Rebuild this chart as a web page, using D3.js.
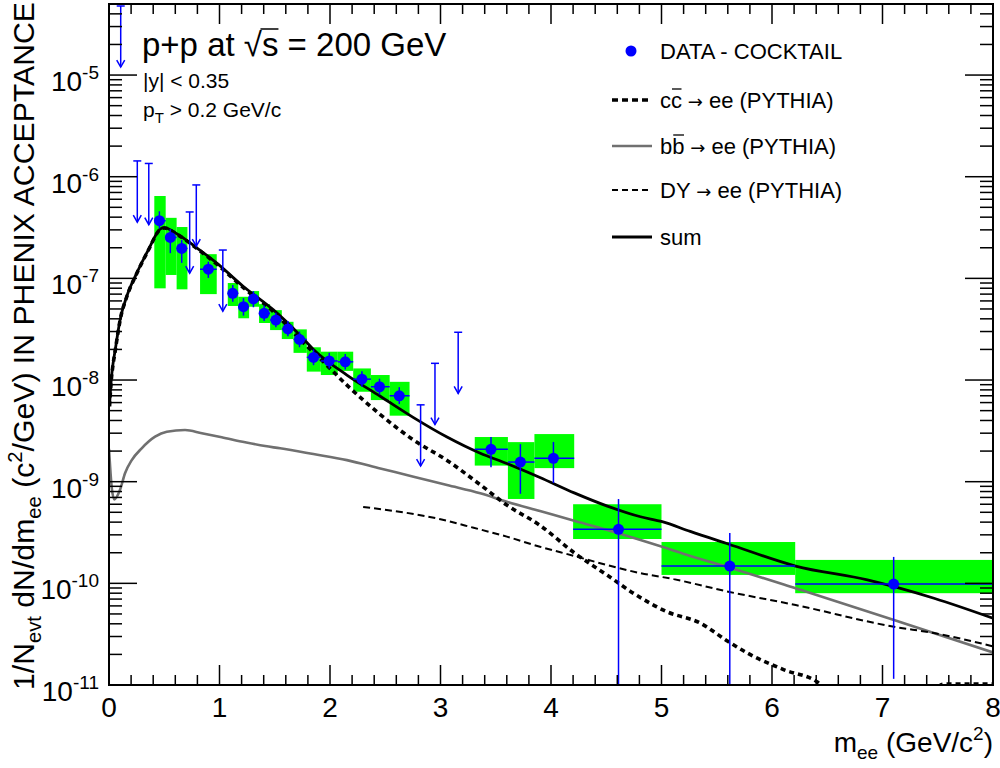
<!DOCTYPE html>
<html><head><meta charset="utf-8">
<script src="https://cdn.jsdelivr.net/npm/d3@7/dist/d3.min.js"></script>
<style>
body{margin:0;background:#fff}
svg{display:block}
text{font-family:"Liberation Sans",Arial,Helvetica,"DejaVu Sans",sans-serif;fill:#000}
</style>
</head><body>
<svg id="chart" width="1000" height="768"></svg>
<script>
// ---------- DATA ----------
// DATA - COCKTAIL points
const dataX  = [0.456,0.555,0.658,0.899,1.12,1.217,1.307,1.404,1.51,1.619,1.724,1.851,1.993,2.138,2.289,2.448,2.627,3.457,3.723,4.022,4.611,5.618,7.101];
const dataY  = [3.69e-7,2.53e-7,1.97e-7,1.23e-7,7.13e-8,5.26e-8,6.27e-8,4.53e-8,3.89e-8,3.18e-8,2.51e-8,1.67e-8,1.54e-8,1.51e-8,1.02e-8,8.59e-9,7.0e-9,2.08e-9,1.56e-9,1.70e-9,3.40e-10,1.48e-10,9.84e-11];
const statHi = [4.57e-7,3.05e-7,2.38e-7,1.46e-7,8.6e-8,6.4e-8,7.5e-8,5.4e-8,4.6e-8,3.8e-8,3.0e-8,2.0e-8,1.85e-8,1.8e-8,1.22e-8,1.03e-8,8.5e-9,2.75e-9,2.34e-9,2.46e-9,6.75e-10,3.13e-10,1.82e-10];
const statLo = [3.1e-7,1.77e-7,1.42e-7,1.01e-7,5.9e-8,4.3e-8,5.2e-8,3.8e-8,3.3e-8,2.7e-8,2.1e-8,1.4e-8,1.3e-8,1.27e-8,8.6e-9,7.2e-9,5.8e-9,1.39e-9,7.6e-10,9.7e-10,1e-12,1e-12,1.15e-11];
const sysHi  = [6.46e-7,3.94e-7,3.2e-7,1.73e-7,9.0e-8,6.59e-8,7.5e-8,5.58e-8,4.87e-8,3.74e-8,3.15e-8,2.1e-8,1.9e-8,1.9e-8,1.3e-8,1.12e-8,9.6e-9,2.75e-9,2.45e-9,2.94e-9,6.0e-10,2.55e-10,1.7e-10];
const sysLo  = [7.98e-8,1.08e-7,7.8e-8,7.0e-8,5.35e-8,4.05e-8,5.26e-8,3.64e-8,3.1e-8,2.53e-8,1.85e-8,1.21e-8,1.12e-8,1.23e-8,7.67e-9,6.35e-9,4.46e-9,1.44e-9,6.76e-10,1.36e-9,2.73e-10,1.21e-10,8.0e-11];
const binLo  = [0.41,0.513,0.612,0.824,1.075,1.17,1.268,1.358,1.458,1.564,1.67,1.79,1.917,2.07,2.21,2.37,2.54,3.31,3.61,3.85,4.2,5.0,6.21];
const binHi  = [0.513,0.612,0.71,0.975,1.17,1.268,1.358,1.458,1.564,1.67,1.79,1.917,2.07,2.21,2.37,2.54,2.72,3.61,3.85,4.21,5.0,6.21,8.0];

// upper limits
const ulX = [0.106,0.256,0.36,0.73,0.79,1.03,2.82,2.95,3.16];
const ulY = [4.8e-5,1.43e-6,1.35e-6,4.5e-7,8.3e-7,1.9e-7,5.7e-9,1.46e-8,2.95e-8];

// PYTHIA curves
const ccX = [0.005,0.02,0.035,0.054,0.084,0.10,0.16,0.25,0.356,0.462,0.50,0.613,0.794,0.976,1.216,1.488,1.73,1.94,2.153,2.455,2.756,3.059,3.36,3.60,3.90,4.21,4.51,4.75,5.05,5.35,5.60,5.80,6.11,6.41,6.6,7.0,7.4,7.55,7.8,8.0];
const ccY = [5.5e-9,9.8e-9,1.38e-8,1.87e-8,3.05e-8,3.85e-8,6.55e-8,1.11e-7,1.89e-7,3.02e-7,3.13e-7,2.72e-7,1.97e-7,1.38e-7,8.1e-8,4.7e-8,2.51e-8,1.51e-8,8.91e-9,4.57e-9,2.57e-9,1.62e-9,9.33e-10,5.89e-10,3.72e-10,2.0e-10,1.20e-10,7.94e-11,5.25e-11,4.07e-11,2.69e-11,2.0e-11,1.41e-11,1.07e-11,7e-12,5e-12,7e-12,1.02e-11,1.02e-11,1.02e-11];

const bbX = [0.0,0.024,0.048,0.10,0.145,0.206,0.296,0.417,0.523,0.688,0.84,1.02,1.232,1.413,1.549,1.85,2.153,2.455,2.756,3.059,3.36,3.60,3.90,4.21,4.51,4.81,5.006,5.26,5.604,6.214,7.104,8.0];
const bbY = [2.1e-9,8.91e-10,6.70e-10,8.32e-10,1.21e-9,1.63e-9,2.13e-9,2.77e-9,3.10e-9,3.22e-9,2.99e-9,2.73e-9,2.44e-9,2.24e-9,2.13e-9,1.87e-9,1.63e-9,1.35e-9,1.12e-9,9.27e-10,7.69e-10,6.35e-10,5.14e-10,4.13e-10,3.35e-10,2.67e-10,2.29e-10,1.86e-10,1.44e-10,8.93e-11,4.37e-11,2.09e-11];

const dyX = [2.30,3.0,3.30,3.60,3.90,4.21,4.51,4.81,5.11,5.604,6.214,7.104,7.466,8.0];
const dyY = [5.64e-10,4.27e-10,3.52e-10,2.88e-10,2.29e-10,1.86e-10,1.51e-10,1.26e-10,1.10e-10,8.28e-11,6.12e-11,3.74e-11,3.24e-11,2.40e-11];

const sumX = [0.005,0.02,0.035,0.054,0.084,0.10,0.16,0.25,0.356,0.462,0.50,0.613,0.794,0.976,1.216,1.488,1.73,1.85,2.153,2.455,2.756,3.059,3.36,3.60,3.90,4.21,4.51,4.81,5.006,5.26,5.604,6.214,6.863,7.466,8.0];
const sumY = [5.62e-9,1.0e-8,1.41e-8,1.905e-8,3.09e-8,3.89e-8,6.61e-8,1.12e-7,1.905e-7,3.05e-7,3.16e-7,2.75e-7,2.0e-7,1.41e-7,8.32e-8,4.90e-8,2.75e-8,2.0e-8,1.12e-8,6.92e-9,4.27e-9,2.75e-9,1.905e-9,1.51e-9,1.10e-9,7.76e-10,5.75e-10,4.52e-10,4.04e-10,3.24e-10,2.44e-10,1.48e-10,1.08e-10,7.13e-11,4.53e-11];

// axes
const xTickValues = [0,1,2,3,4,5,6,7,8];
const yTickExponents = [-11,-10,-9,-8,-7,-6,-5];
const xDomain = [0, 8];
const yDomain = [1e-11, 5e-5];

// texts
const titleText = "p+p at \u221As = 200 GeV";
const legendLabels = [["DATA - COCKTAIL"], ["cc", " ee (PYTHIA)"], ["bb", " ee (PYTHIA)"], ["DY", " ee (PYTHIA)"], ["sum"]];

// ---------- LAYOUT ----------
const L = 109, R = 993, T = 4, B = 685;
const svg = d3.select("#chart");
const x = d3.scaleLinear().domain(xDomain).range([L, R]);
const y = d3.scaleLog().domain(yDomain).range([B, T]);

svg.append("defs").append("clipPath").attr("id","plotclip")
  .append("rect").attr("x",L).attr("y",T).attr("width",R-L).attr("height",B-T);

const plot = svg.append("g").attr("clip-path","url(#plotclip)");

const idx = d3.range(dataX.length);
const GREEN = "#00ff00", BLUE = "#0000ff";

// systematic boxes
plot.append("g").selectAll("rect").data(idx).join("rect")
  .attr("x", i => x(binLo[i])).attr("width", i => x(binHi[i]) - x(binLo[i]))
  .attr("y", i => y(sysHi[i])).attr("height", i => y(sysLo[i]) - y(sysHi[i]))
  .attr("fill", GREEN);

// curves
function curve(xs, ys) {
  return d3.line().x(d => x(xs[d])).y(d => y(ys[d])).curve(d3.curveMonotoneX)(d3.range(xs.length));
}
plot.append("path").attr("d", curve(bbX, bbY)).attr("fill","none").attr("stroke","#707070").attr("stroke-width",2.6);
plot.append("path").attr("d", curve(dyX, dyY)).attr("fill","none").attr("stroke","#000").attr("stroke-width",2).attr("stroke-dasharray","7,4");
plot.append("path").attr("d", curve(ccX, ccY)).attr("fill","none").attr("stroke","#000").attr("stroke-width",3.6).attr("stroke-dasharray","5,4");
plot.append("path").attr("d", curve(sumX, sumY)).attr("fill","none").attr("stroke","#000").attr("stroke-width",2.8);

// error bars
const eb = plot.append("g").attr("stroke", BLUE).attr("stroke-width",1.5);
eb.selectAll("line.v").data(idx).join("line").attr("class","v")
  .attr("x1", i => x(dataX[i])).attr("x2", i => x(dataX[i]))
  .attr("y1", i => y(statHi[i])).attr("y2", i => Math.min(y(statLo[i]), B+5));
eb.selectAll("line.h").data(idx).join("line").attr("class","h")
  .attr("x1", i => x(binLo[i])).attr("x2", i => x(binHi[i]))
  .attr("y1", i => y(dataY[i])).attr("y2", i => y(dataY[i]));

// markers
plot.append("g").selectAll("circle").data(idx).join("circle")
  .attr("cx", i => x(dataX[i])).attr("cy", i => y(dataY[i])).attr("r",5.5).attr("fill", BLUE);

// upper limits
const ul = svg.append("g").attr("stroke", BLUE).attr("stroke-width",1.5).attr("fill","none");
d3.range(ulX.length).forEach(i => {
  const px = x(ulX[i]), top = Math.max(y(ulY[i]), T+2), tip = y(ulY[i] / 4);
  ul.append("line").attr("x1",px-4).attr("x2",px+4).attr("y1",top).attr("y2",top);
  ul.append("line").attr("x1",px).attr("x2",px).attr("y1",top).attr("y2",tip);
  ul.append("path").attr("d",`M${px-4},${tip-7}L${px},${tip}L${px+4},${tip-7}`);
});

// ---------- AXES / FRAME ----------
const ax = svg.append("g").attr("stroke","#000").attr("stroke-width",1.5);
svg.append("rect").attr("x",L).attr("y",T).attr("width",R-L).attr("height",B-T)
  .attr("fill","none").attr("stroke","#000").attr("stroke-width",2);

// x ticks (bottom and top)
const xMinor = d3.range(0, 8.0001, 0.2);
xMinor.forEach(v => {
  const isMajor = Math.abs(v - Math.round(v)) < 1e-6;
  const len = isMajor ? 20 : 10;
  ax.append("line").attr("x1",x(v)).attr("x2",x(v)).attr("y1",B).attr("y2",B-len);
  ax.append("line").attr("x1",x(v)).attr("x2",x(v)).attr("y1",T).attr("y2",T+len);
});
svg.append("g").selectAll("text").data(xTickValues).join("text")
  .attr("x", d => x(d)).attr("y", 717).attr("text-anchor","middle")
  .attr("font-size", 28).text(d => d);

// y ticks (left and right)
for (let e = -11; e <= -5; e++) {
  for (let m = 1; m <= 9; m++) {
    const v = m * Math.pow(10, e);
    if (v < yDomain[0] * 0.999 || v > yDomain[1]) continue;
    const len = m === 1 ? 28 : 13;
    ax.append("line").attr("x1",L).attr("x2",L+len).attr("y1",y(v)).attr("y2",y(v));
    ax.append("line").attr("x1",R).attr("x2",R-len).attr("y1",y(v)).attr("y2",y(v));
  }
}
const yl = svg.append("g").selectAll("text").data(yTickExponents).join("text")
  .attr("x", 99).attr("y", d => y(Math.pow(10, d)) + 16).attr("text-anchor","end")
  .attr("font-size", 28);
yl.append("tspan").text("10");
yl.append("tspan").attr("dy",-12).attr("font-size",19).text(d => d);

// x axis title
const xt = svg.append("text").attr("x", 993).attr("y", 752).attr("text-anchor","end").attr("font-size", 28);
xt.append("tspan").text("m");
xt.append("tspan").attr("dy", 7).attr("font-size", 19).text("ee");
xt.append("tspan").attr("dy", -7).text(" (GeV/c");
xt.append("tspan").attr("dy", -12).attr("font-size", 19).text("2");
xt.append("tspan").attr("dy", 12).text(")");

// y axis title
const ytG = svg.append("g");
const yt = ytG.append("text").attr("text-anchor","end").attr("font-size", 30);
yt.append("tspan").text("1/N");
yt.append("tspan").attr("dy", 7).attr("font-size", 20).text("evt");
yt.append("tspan").attr("dy", -7).text(" dN/dm");
yt.append("tspan").attr("dy", 7).attr("font-size", 20).text("ee");
yt.append("tspan").attr("dy", -7).text(" (c");
yt.append("tspan").attr("dy", -12).attr("font-size", 20).text("2");
yt.append("tspan").attr("dy", 12).text("/GeV) IN PHENIX ACCEPTANCE");
const ytLen = yt.node().getComputedTextLength();
const ytScale = 688 / ytLen;
ytG.attr("transform", `translate(34,2) rotate(-90) scale(${ytScale},1)`);

// ---------- TEXTS ----------
function overline(textSel, charIndex, dy) {
  const n = textSel.node();
  const ext = n.getExtentOfChar(charIndex);
  svg.append("line").attr("x1", ext.x + 1).attr("x2", ext.x + ext.width - 0.5)
    .attr("y1", ext.y + dy).attr("y2", ext.y + dy).attr("stroke","#000").attr("stroke-width",1.3);
}

const title = svg.append("text").attr("x", 142).attr("y", 56).attr("font-size", 33).text(titleText);
{
  const n = title.node();
  const rad = n.getExtentOfChar(7), s = n.getExtentOfChar(8);
  svg.append("line").attr("x1", rad.x + rad.width - 1.5).attr("x2", s.x + s.width)
    .attr("y1", rad.y + 3).attr("y2", rad.y + 3).attr("stroke","#000").attr("stroke-width",1.5);
}
svg.append("text").attr("x", 143).attr("y", 88).attr("font-size", 21).text("|y| < 0.35");
const pt = svg.append("text").attr("x", 143).attr("y", 117).attr("font-size", 21);
pt.append("tspan").text("p");
pt.append("tspan").attr("dy", 6).attr("font-size", 15).text("T");
pt.append("tspan").attr("dy", -6).text(" > 0.2 GeV/c");

// ---------- LEGEND ----------
const legRows = [51, 100, 146, 190, 237];
const legG = svg.append("g");
legG.append("circle").attr("cx", 631).attr("cy", legRows[0]).attr("r", 5.5).attr("fill", BLUE);
legG.append("line").attr("x1",612).attr("x2",652).attr("y1",legRows[1]).attr("y2",legRows[1])
  .attr("stroke","#000").attr("stroke-width",3.6).attr("stroke-dasharray","6,4");
legG.append("line").attr("x1",612).attr("x2",652).attr("y1",legRows[2]).attr("y2",legRows[2])
  .attr("stroke","#707070").attr("stroke-width",2.6);
legG.append("line").attr("x1",612).attr("x2",652).attr("y1",legRows[3]).attr("y2",legRows[3])
  .attr("stroke","#000").attr("stroke-width",2).attr("stroke-dasharray","6,4");
legG.append("line").attr("x1",612).attr("x2",652).attr("y1",legRows[4]).attr("y2",legRows[4])
  .attr("stroke","#000").attr("stroke-width",2.8);
const legTexts = legendLabels.map((parts, i) => {
  const t = legG.append("text").attr("x", 660).attr("y", legRows[i] + 8).attr("font-size", 22);
  t.append("tspan").text(parts[0]);
  if (parts.length > 1) {
    t.append("tspan").attr("font-family", "DejaVu Sans").attr("font-size", 18).text(" \u2192");
    t.append("tspan").text(parts[1]);
  }
  return t;
});
overline(legTexts[1], 1, 1);
overline(legTexts[2], 1, 1);
</script>
</body></html>
